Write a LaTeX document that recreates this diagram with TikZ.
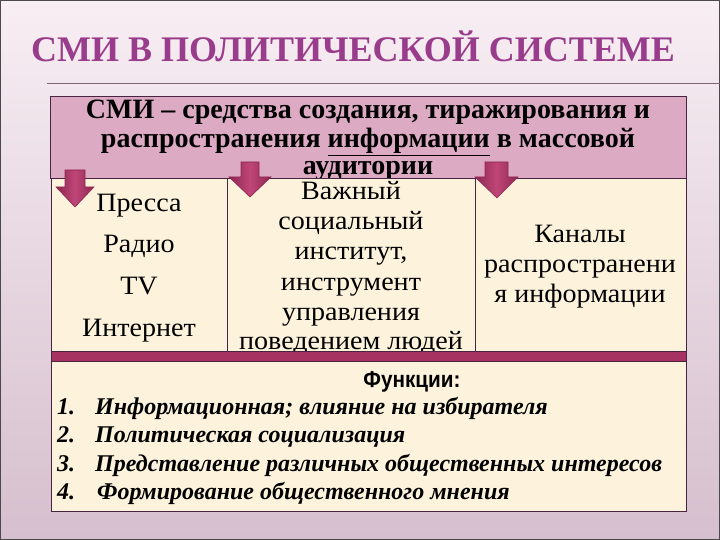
\documentclass[tikz,border=0pt]{standalone}
\usepackage{fontspec}
\setmainfont{Liberation Serif}
\newfontfamily\widerm[FakeStretch=1.06]{Liberation Serif}
\newfontfamily\sansf{Liberation Sans}
\definecolor{bgtop}{HTML}{F7EEF3}
\definecolor{bgbot}{HTML}{D6BFCE}
\definecolor{framec}{HTML}{4A4A4A}
\definecolor{titlec}{HTML}{9A3C8C}
\definecolor{rulec}{HTML}{7E6475}
\definecolor{pinkbox}{HTML}{DCAAC3}
\definecolor{cream}{HTML}{FDF3DC}
\definecolor{edgec}{HTML}{4A2340}
\definecolor{bandc}{HTML}{A63261}
\definecolor{arrowc}{HTML}{BF4677}
\definecolor{arrowd}{HTML}{8E2752}
\tikzset{
  box/.style={draw=edgec,line width=1.2pt},
  txt/.style={anchor=base,inner sep=0pt,text=black},
  deftxt/.style={txt,font=\fontsize{28}{30}\selectfont\bfseries},
  coltxt/.style={txt,font=\widerm\fontsize{26.5}{30}\selectfont},
  itemtxt/.style={anchor=base west,inner sep=0pt,font=\fontsize{24}{26}\selectfont\bfseries\itshape},
  downarr/.style={left color=arrowd,right color=arrowd,middle color=arrowc,draw=arrowd,line width=0.6pt,line join=miter}
}
\begin{document}
\begin{tikzpicture}[x=1pt,y=1pt]
\useasboundingbox (0,0) rectangle (720,540);
\shade[top color=bgtop,bottom color=bgbot] (0,0) rectangle (720,540);
\draw[framec,line width=2pt] (0,0) rectangle (720,540);
% title
\node[anchor=base,inner sep=0pt,text=titlec,font=\fontsize{36}{40}\selectfont\bfseries] (title) at (353,478) {СМИ В ПОЛИТИЧЕСКОЙ СИСТЕМЕ};
\coordinate (ruleL) at (47,456);
\coordinate (ruleR) at (720,456);
\draw[rulec,line width=1pt] (ruleL) -- (ruleR);
% definition box
\node[box,fill=pinkbox,minimum width=636pt,minimum height=82pt,inner sep=0pt,anchor=north west] (defbox) at (50,444) {};
\node[deftxt] (def1) at (368,421) {СМИ – средства создания, тиражирования и};
\node[deftxt] (def2) at (368,392) {распространения \underline{информации} в массовой};
\node[deftxt] (def3) at (368,365) {аудитории};
% table columns
\node[box,fill=cream,minimum width=176pt,minimum height=173pt,inner sep=0pt,anchor=north west] (col1) at (51,362) {};
\node[box,fill=cream,minimum width=248pt,minimum height=173pt,inner sep=0pt,anchor=north west] (col2) at (227,362) {};
\node[box,fill=cream,minimum width=211pt,minimum height=173pt,inner sep=0pt,anchor=north west] (col3) at (475,362) {};
% column texts
\node[coltxt] (c1a) at (139,328) {Пресса};
\node[coltxt] (c1b) at (139,287) {Радио};
\node[coltxt] (c1c) at (139,245) {TV};
\node[coltxt] (c1d) at (139,203) {Интернет};
\node[coltxt] (c2a) at (351,340) {Важный};
\node[coltxt] (c2b) at (351,310) {социальный};
\node[coltxt] (c2c) at (351,280) {институт,};
\node[coltxt] (c2d) at (351,249) {инструмент};
\node[coltxt] (c2e) at (351,219) {управления};
\node[coltxt] (c2f) at (351,190) {поведением людей};
\node[coltxt] (c3a) at (580,297) {Каналы};
\node[coltxt] (c3b) at (580,267) {распространени};
\node[coltxt] (c3c) at (580,237) {я информации};
% band
\node[box,fill=bandc,minimum width=635pt,minimum height=10pt,inner sep=0pt,anchor=north west] (band) at (51,189) {};
% functions box
\node[box,fill=cream,minimum width=635pt,minimum height=150pt,inner sep=0pt,anchor=north west] (funcbox) at (51,179) {};
\node[anchor=base,inner sep=0pt,font=\sansf\bfseries\fontsize{23}{26}\selectfont] (fhead) at (412,152) {\scalebox{0.9}[1]{Функции:}};
\node[itemtxt] (n1) at (57,125) {1.};
\node[itemtxt] (n2) at (57,97) {2.};
\node[itemtxt] (n3) at (57,68) {3.};
\node[itemtxt] (n4) at (57,40) {4.};
\node[itemtxt] (f1) at (95,125) {Информационная; влияние на избирателя};
\node[itemtxt] (f2) at (95,97) {Политическая социализация};
\node[itemtxt] (f3) at (95,68) {Представление различных общественных интересов};
\node[itemtxt] (f4) at (97,40) {Формирование общественного мнения};
% arrows
\shade[downarr] (65,370) -- (85,370) -- (85,353) -- (94,353) -- (75,333) -- (56,353) -- (65,353) -- cycle;
\shade[downarr] (241,378) -- (259,378) -- (259,363) -- (271,363) -- (250,343) -- (229,363) -- (241,363) -- cycle;
\shade[downarr] (485,378) -- (508,378) -- (508,363) -- (518,363) -- (497,342) -- (475,363) -- (485,363) -- cycle;
\end{tikzpicture}
\end{document}
